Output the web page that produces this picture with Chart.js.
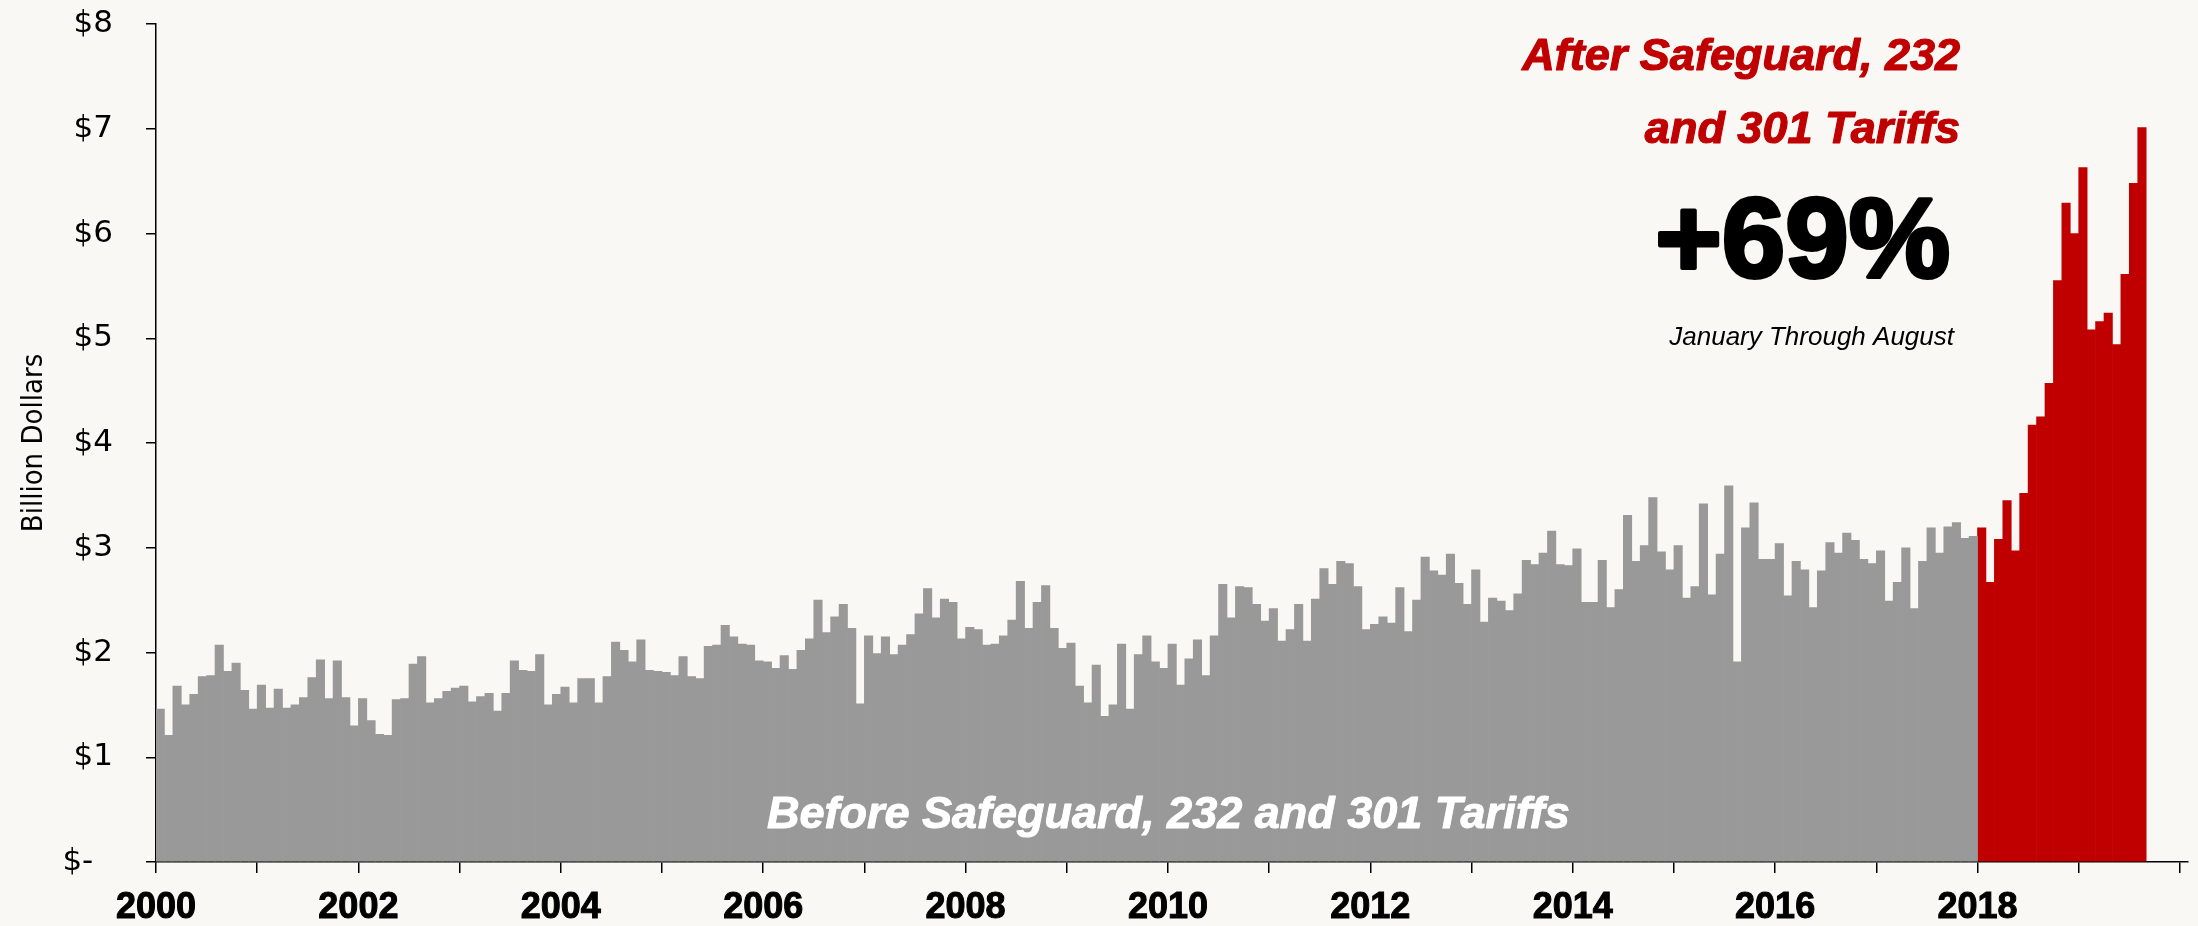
<!DOCTYPE html>
<html>
<head>
<meta charset="utf-8">
<script src="https://cdn.jsdelivr.net/npm/chart.js@4/dist/chart.umd.min.js"></script>
<style>
  html, body { margin: 0; padding: 0; background: #f9f8f4; }
  #wrap { width: 2198px; height: 926px; position: relative; }
</style>
</head>
<body>
<div id="wrap"><canvas id="chart"></canvas></div>
<script>
// monthly values, billion dollars, Jan 2000 - Dec 2017
const before = [
  1.46, 1.21, 1.68, 1.50, 1.60, 1.77, 1.78, 2.07, 1.82, 1.90, 1.64, 1.46, // 2000
  1.69, 1.47, 1.65, 1.47, 1.50, 1.57, 1.76, 1.93, 1.56, 1.92, 1.57, 1.30, // 2001
  1.56, 1.35, 1.22, 1.21, 1.55, 1.56, 1.89, 1.96, 1.52, 1.56, 1.63, 1.66, // 2002
  1.68, 1.53, 1.58, 1.61, 1.44, 1.61, 1.92, 1.83, 1.82, 1.98, 1.50, 1.60, // 2003
  1.67, 1.52, 1.75, 1.75, 1.52, 1.77, 2.10, 2.02, 1.91, 2.12, 1.83, 1.82, // 2004
  1.81, 1.78, 1.96, 1.77, 1.75, 2.06, 2.07, 2.26, 2.15, 2.08, 2.07, 1.92, // 2005
  1.91, 1.85, 1.97, 1.84, 2.02, 2.13, 2.50, 2.19, 2.34, 2.46, 2.23, 1.51, // 2006
  2.16, 1.99, 2.15, 1.98, 2.07, 2.17, 2.37, 2.61, 2.33, 2.51, 2.48, 2.13, // 2007
  2.24, 2.22, 2.07, 2.08, 2.16, 2.31, 2.68, 2.23, 2.48, 2.64, 2.23, 2.04, // 2008
  2.09, 1.68, 1.52, 1.88, 1.39, 1.50, 2.08, 1.46, 1.98, 2.16, 1.91, 1.85, // 2009
  2.08, 1.69, 1.94, 2.12, 1.78, 2.16, 2.65, 2.33, 2.63, 2.62, 2.46, 2.30, // 2010
  2.42, 2.11, 2.22, 2.46, 2.11, 2.51, 2.80, 2.65, 2.87, 2.85, 2.63, 2.22, // 2011
  2.27, 2.34, 2.28, 2.62, 2.20, 2.50, 2.91, 2.78, 2.74, 2.94, 2.66, 2.46, // 2012
  2.79, 2.29, 2.52, 2.49, 2.40, 2.56, 2.88, 2.84, 2.95, 3.16, 2.84, 2.83, // 2013
  2.99, 2.48, 2.48, 2.88, 2.43, 2.60, 3.31, 2.87, 3.02, 3.48, 2.96, 2.79, // 2014
  3.02, 2.52, 2.63, 3.42, 2.55, 2.94, 3.59, 1.91, 3.19, 3.43, 2.89, 2.89, // 2015
  3.04, 2.54, 2.87, 2.79, 2.43, 2.78, 3.05, 2.95, 3.14, 3.07, 2.89, 2.85, // 2016
  2.97, 2.49, 2.67, 3.00, 2.42, 2.87, 3.19, 2.95, 3.20, 3.24, 3.09, 3.11  // 2017
];
// Jan 2018 - Aug 2019
const after = [
  3.19, 2.67, 3.08, 3.45, 2.97, 3.52, 4.17, 4.25, 4.57, 5.55, 6.29, 6.00, // 2018
  6.63, 5.08, 5.16, 5.24, 4.94, 5.61, 6.48, 7.01                          // 2019
];
const startYear = 2000;
const endYear = 2020;
const labelYears = [2000, 2002, 2004, 2006, 2008, 2010, 2012, 2014, 2016, 2018];
const yTicks = [0, 1, 2, 3, 4, 5, 6, 7, 8];

const toPoints = (vals, offset) =>
  vals.map((v, i) => ({ x: startYear + (offset + i + 0.5) / 12, y: v }));

const GRAY = "#999999";
const RED = "#c00000";

const textPlugin = {
  id: "notes",
  afterDraw: (chart) => {
    const ctx = chart.ctx;
    ctx.save();
    ctx.textBaseline = "alphabetic";
    ctx.lineJoin = "round";
    // red heading
    ctx.fillStyle = RED;
    ctx.strokeStyle = RED;
    ctx.lineWidth = 1.2;
    ctx.textAlign = "right";
    ctx.font = "italic bold 45px 'Liberation Sans', Arial, sans-serif";
    ctx.fillText("After Safeguard, 232", 1960, 70);
    ctx.strokeText("After Safeguard, 232", 1960, 70);
    ctx.fillText("and 301 Tariffs", 1960, 143);
    ctx.strokeText("and 301 Tariffs", 1960, 143);
    // big number
    ctx.fillStyle = "#000";
    ctx.strokeStyle = "#000";
    ctx.lineWidth = 4;
    ctx.font = "bold 114px 'Liberation Sans', Arial, sans-serif";
    ctx.fillText("+69%", 1950, 277);
    ctx.strokeText("+69%", 1950, 277);
    ctx.font = "italic 26px 'Liberation Sans', Arial, sans-serif";
    ctx.fillText("January Through August", 1954, 345);
    // label inside the gray bars
    ctx.fillStyle = "#fff";
    ctx.strokeStyle = "#fff";
    ctx.lineWidth = 1;
    ctx.textAlign = "left";
    ctx.font = "italic bold 45px 'Liberation Sans', Arial, sans-serif";
    ctx.fillText("Before Safeguard, 232 and 301 Tariffs", 767, 828);
    ctx.strokeText("Before Safeguard, 232 and 301 Tariffs", 767, 828);
    ctx.restore();
  },
};

new Chart(document.getElementById("chart"), {
  type: "bar",
  data: {
    datasets: [
      {
        label: "Before",
        data: toPoints(before, 0),
        backgroundColor: GRAY,
        grouped: false,
        barPercentage: 1,
        categoryPercentage: 1,
      },
      {
        label: "After",
        data: toPoints(after, before.length),
        backgroundColor: RED,
        grouped: false,
        barPercentage: 1,
        categoryPercentage: 1,
      },
    ],
  },
  options: {
    responsive: true,
    maintainAspectRatio: false,
    animation: false,
    layout: { padding: { top: 24, right: 10, left: 0, bottom: 0 } },
    plugins: { legend: { display: false }, tooltip: { enabled: false } },
    scales: {
      x: {
        type: "linear",
        min: startYear,
        max: endYear + 0.08,
        offset: false,
        grid: {
          offset: false,
          drawOnChartArea: false,
          color: "#000",
          lineWidth: 1.5,
          tickLength: 11,
        },
        border: { color: "#000", width: 1.5 },
        ticks: {
          stepSize: 1,
          includeBounds: false,
          autoSkip: false,
          maxRotation: 0,
          padding: 13,
          color: "#000",
          textStrokeColor: "#000",
          textStrokeWidth: 1,
          font: { family: "'Liberation Sans', Arial, sans-serif", size: 36, weight: "bold" },
          callback: (v) => (labelYears.includes(v) ? String(v) : ""),
        },
        afterFit: (s) => {
          s.height = 64;
          s.paddingLeft = 0;
          s.paddingRight = 0;
        },
      },
      y: {
        min: 0,
        max: 8,
        afterBuildTicks: (s) => {
          s.ticks = yTicks.map((v) => ({ value: v }));
        },
        grid: {
          drawOnChartArea: false,
          color: "#000",
          lineWidth: 1.5,
          tickLength: 10,
        },
        border: { color: "#000", width: 1.5 },
        ticks: {
          padding: 33,
          color: "#000",
          font: { family: "'DejaVu Sans', sans-serif", size: 31 },
          callback: (v) => (v === 0 ? "$-  " : "$" + v),
        },
        title: {
          display: true,
          text: "Billion Dollars",
          color: "#000",
          padding: { top: 17, bottom: 0 },
          font: {
            family: "'Liberation Sans Narrow', 'DejaVu Sans Condensed', sans-serif",
            size: 29,
          },
        },
        afterFit: (s) => {
          s.width = 156;
          s.paddingTop = 0;
          s.paddingBottom = 0;
        },
      },
    },
  },
  plugins: [textPlugin],
});
</script>
</body>
</html>
